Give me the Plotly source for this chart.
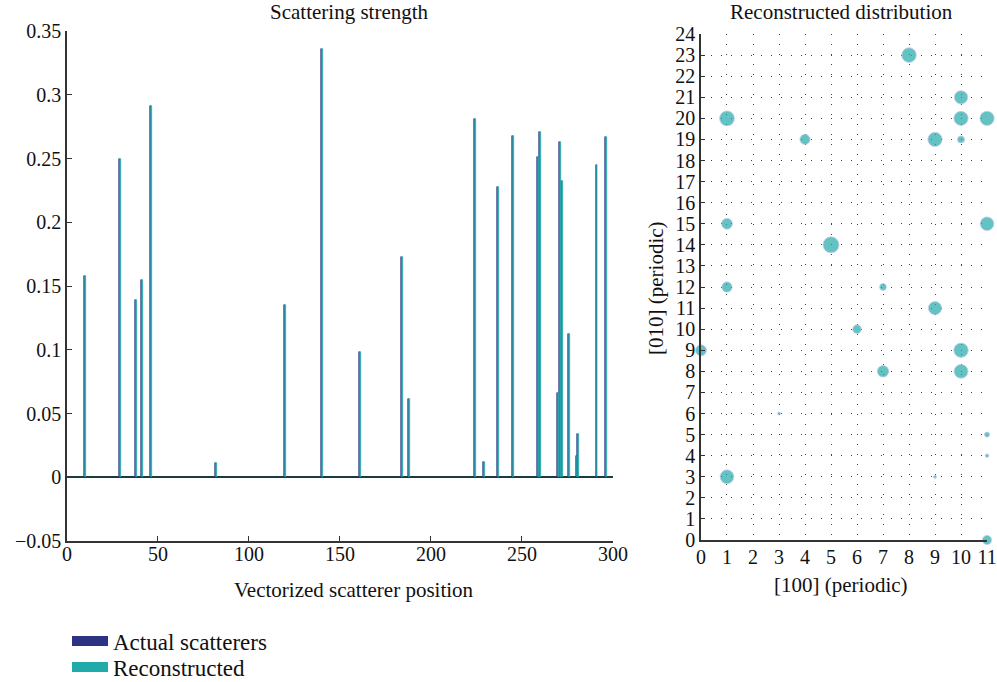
import plotly.graph_objects as go

# ---- data ----
positions = [10, 29, 38, 41, 46, 82, 120, 140, 161, 184, 188, 224, 229, 237,
             245, 259, 260, 270, 271, 272, 276, 280, 281, 291, 296]
actual = [0.158, 0.250, 0.139, 0.155, 0.291, 0.011, 0.135, 0.336, 0.098, 0.173,
          0.061, 0.281, 0.012, 0.228, 0.268, 0.251, 0.271, 0.066, 0.263, 0.232,
          0.112, 0.017, 0.034, 0.245, 0.267]
reconstructed = [0.158, 0.250, 0.139, 0.155, 0.291, 0.011, 0.135, 0.336, 0.098, 0.173,
                 0.061, 0.281, 0.012, 0.228, 0.268, 0.251, 0.271, 0.066, 0.263, 0.232,
                 0.112, 0.017, 0.034, 0.245, 0.267]
ny = 25  # grid rows [010]
nx = 12  # grid columns [100]
y_ticks = [-0.05, 0, 0.05, 0.1, 0.15, 0.2, 0.25, 0.3, 0.35]
y_ticklabels = ["\u22120.05", "0", "0.05", "0.1", "0.15", "0.2", "0.25", "0.3", "0.35"]
x_ticks = [0, 50, 100, 150, 200, 250, 300]

NAVY = "#2d3282"
TEAL = "#20aaa9"
FONT = "Liberation Serif"
AX = "#333333"
TICK = 20
TITLE = 21
H = 682.0
W = 997.0

# grid coordinates of each scatterer (index = x*25 + y + 1)
gx = [(p - 1) // ny for p in positions]
gy = [(p - 1) % ny for p in positions]

fig = go.Figure()
fig.add_trace(go.Bar(x=positions, y=actual, name="Actual scatterers",
                     marker=dict(color=NAVY, line=dict(color=NAVY, width=0.6)),
                     showlegend=False, xaxis="x", yaxis="y"))
fig.add_trace(go.Bar(x=positions, y=reconstructed, name="Reconstructed",
                     marker=dict(color=TEAL, line=dict(color=TEAL, width=0.6)),
                     showlegend=False, xaxis="x", yaxis="y"))

# legend entries
fig.add_trace(go.Scatter(x=[None], y=[None], mode="lines", name="Actual scatterers",
                         line=dict(color=NAVY, width=12), xaxis="x", yaxis="y",
                         legend="legend"))
fig.add_trace(go.Scatter(x=[None], y=[None], mode="lines", name="Reconstructed",
                         line=dict(color=TEAL, width=12), xaxis="x", yaxis="y",
                         legend="legend2"))

max_d = 16.0
fig.add_trace(go.Scatter(
    x=gx, y=gy, mode="markers", showlegend=False, cliponaxis=False,
    marker=dict(size=reconstructed, sizemode="area",
                sizeref=2 * max(reconstructed) / max_d ** 2,
                color=TEAL, line=dict(color="#b3b6e6", width=0.8)),
    xaxis="x2", yaxis="y2"))

leg = dict(xanchor="left", yanchor="middle", font=dict(family=FONT, size=23),
           bgcolor="rgba(0,0,0,0)", itemwidth=36)

def ann(text, x, y, angle=0):
    return dict(text=text, x=x / W, y=1 - y / H, xref="paper", yref="paper",
                showarrow=False, font=dict(size=TITLE), xanchor="center",
                yanchor="middle", textangle=angle)

fig.update_layout(
    width=997, height=682,
    margin=dict(l=0, r=0, t=0, b=0, autoexpand=False),
    paper_bgcolor="white", plot_bgcolor="white",
    font=dict(family=FONT, size=TICK, color="#111111"),
    barmode="group", bargap=0, bargroupgap=0,
    showlegend=True,
    legend=dict(x=67 / W, y=1 - 641 / H, **leg),
    legend2=dict(x=67 / W, y=1 - 667 / H, **leg),
    xaxis=dict(domain=[0.0672, 0.6148], range=[0, 300], tickvals=x_ticks,
               ticks="inside", ticklen=5, tickcolor=AX, showline=True,
               linecolor=AX, linewidth=1.5, showgrid=False, zeroline=False,
               automargin=False, anchor="y", ticklabelstandoff=-6),
    yaxis=dict(domain=[0.2067, 0.9545], range=[-0.05, 0.35], tickvals=y_ticks,
               ticktext=y_ticklabels, ticks="inside", ticklen=5, tickcolor=AX,
               showline=True, linecolor=AX, linewidth=1.5, showgrid=False,
               zeroline=True, zerolinecolor="#1d3b40", zerolinewidth=2,
               automargin=False, anchor="x"),
    xaxis2=dict(domain=[0.7031, 0.99], range=[0, nx - 1], dtick=1, tick0=0,
                ticks="", showline=True, linecolor=AX, linewidth=1.5,
                showgrid=True, gridcolor="#444444", gridwidth=1,
                griddash="1px,9px", zeroline=False, automargin=False,
                anchor="y2", ticklabelstandoff=-2),
    yaxis2=dict(domain=[0.2082, 0.9501], range=[0, ny - 1], dtick=1, tick0=0,
                ticks="inside", ticklen=4, tickcolor=AX, showline=True,
                linecolor=AX, linewidth=1.5, showgrid=True, gridcolor="#444444",
                gridwidth=1, griddash="1px,9px", zeroline=False,
                automargin=False, anchor="x2"),
    annotations=[
        ann("Scattering strength", 349, 12),
        ann("Reconstructed distribution", 841.5, 12),
        ann("Vectorized scatterer position", 354, 590),
        ann("[100] (periodic)", 841, 585),
        ann("[010] (periodic)", 656, 288, angle=-90),
    ],
)

fig.write_html("out.html")
